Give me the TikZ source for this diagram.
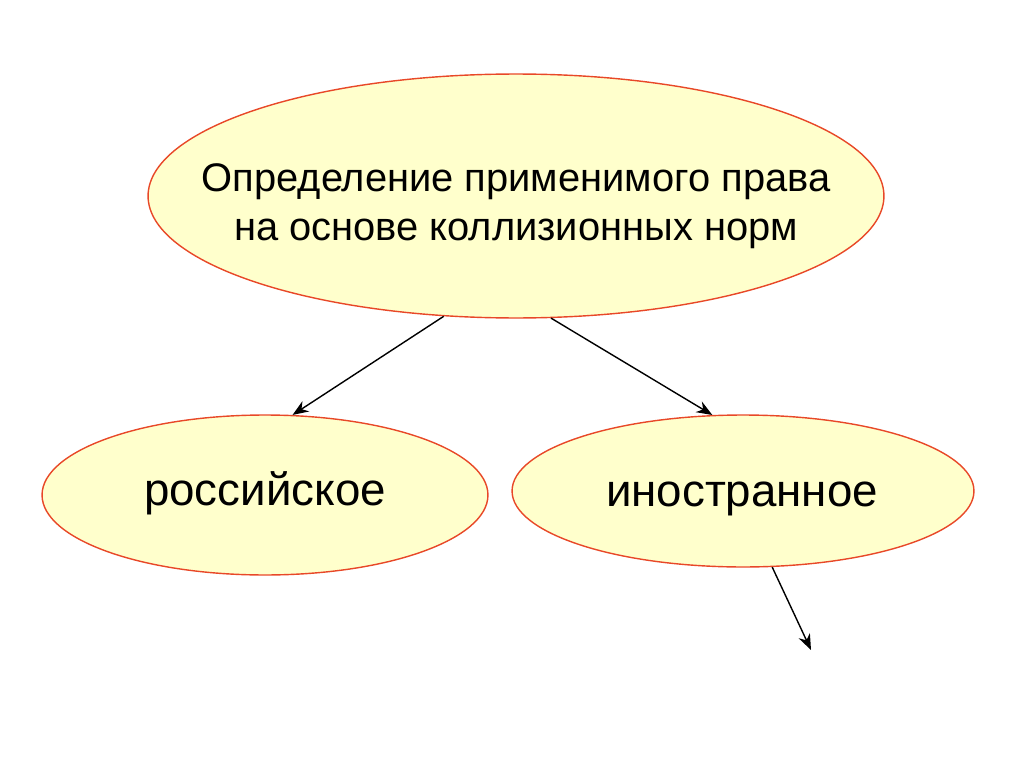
\documentclass[tikz,border=0pt]{standalone}
\usepackage{fontspec}
\setmainfont{Liberation Sans}
\usetikzlibrary{shapes.geometric,arrows.meta}

\definecolor{ovalfill}{RGB}{255,255,204}
\definecolor{ovalline}{RGB}{232,72,40}

\tikzset{
    oval/.style={ellipse, draw=ovalline, fill=ovalfill, line width=0.8pt, inner sep=0pt},
    link/.style={-{Stealth[length=9pt,width=7pt]}, line width=0.8pt, black}
}

\begin{document}
\begin{tikzpicture}[x=0.02cm, y=-0.02cm]
    \useasboundingbox (0,0) rectangle (1024,767);

    \node[oval, minimum width=14.72cm, minimum height=4.88cm] (rule) at (516,196) {};
    \node[oval, minimum width=8.92cm, minimum height=3.2cm] (russian) at (265,495) {};
    \node[oval, minimum width=9.24cm, minimum height=3.04cm] (foreign) at (743,491) {};

    \node[align=center, inner sep=0pt, font=\fontsize{22.7}{28}\selectfont] (ruletext) at (516,206)
        {Определение применимого права\\на основе коллизионных норм};
    \node[anchor=base, inner sep=0pt, font=\fontsize{26}{30}\selectfont] (russiantext) at (265,505) {российское};
    \node[anchor=base, inner sep=0pt, font=\fontsize{26}{30}\selectfont] (foreigntext) at (742,506) {иностранное};

    \coordinate (next) at (811,650);

    \draw[link] (rule.239) -- (russian.71);
    \draw[link] (rule.286) -- (foreign.112);
    \draw[link] (foreign.291) -- (next);
\end{tikzpicture}
\end{document}
